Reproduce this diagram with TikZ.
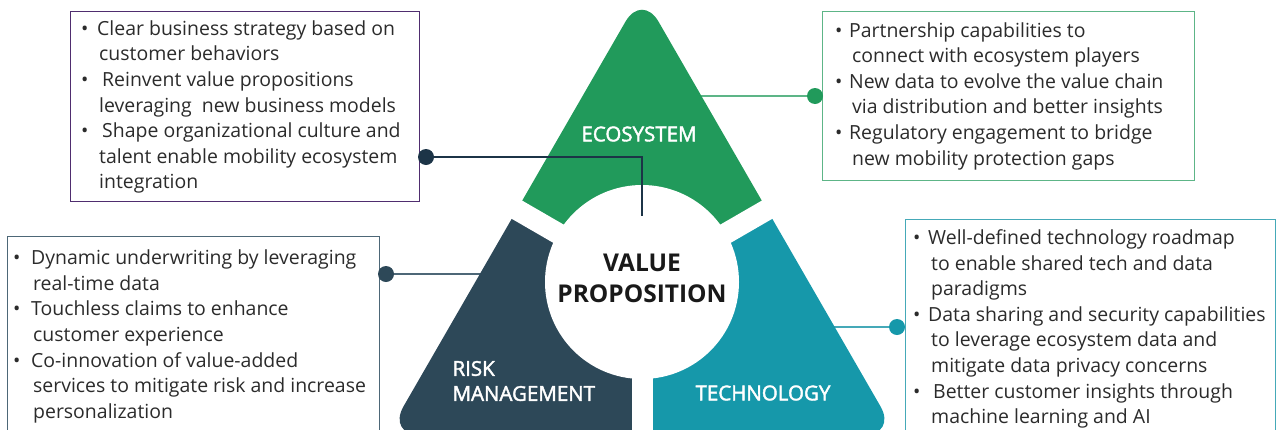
\documentclass[tikz,border=0pt]{standalone}
\usepackage{fontspec}
\setmainfont{Open Sans}
\newfontfamily\piecefont{Open Sans}[FakeBold=2]
\usetikzlibrary{positioning,calc}

\definecolor{ecogreen}{HTML}{219A5B}
\definecolor{riskslate}{HTML}{2D4858}
\definecolor{techteal}{HTML}{1698AA}
\definecolor{stratnavy}{HTML}{1C3447}
\definecolor{stratpurple}{HTML}{4F2D6F}
\definecolor{ecoline}{HTML}{5DB587}
\definecolor{riskline}{HTML}{4D6777}
\definecolor{techline}{HTML}{45A9B8}
\definecolor{bodytext}{HTML}{2B2B2B}

\newcommand{\bul}[1][15pt]{\makebox[#1][l]{\textbullet}}
\newcommand{\ind}[1][17pt]{\hspace*{#1}}

\begin{document}
\begin{tikzpicture}[x=1pt, y=-1pt,
    infobox/.style={draw, line width=1.2pt, anchor=north west},
    infotext/.style={anchor=west, inner sep=0pt, align=left, text=bodytext, font=\fontsize{19.45}{25.6}\selectfont},
    dot/.style={circle, minimum size=16pt, inner sep=0pt},
    link/.style={line width=1.6pt},
    piecelabel/.style={text=white, align=left, font=\piecefont\fontsize{20.5}{25}\selectfont}]
    \useasboundingbox (0,0) rectangle (1277,429);

    % Boxes
    \node[infobox, draw=stratpurple, minimum width=349pt, minimum height=190pt] (strategybox) at (70,11) {};
    \node[infobox, draw=ecoline, minimum width=372pt, minimum height=169pt] (ecobox) at (822,11) {};
    \node[infobox, draw=riskline, minimum width=372pt, minimum height=200pt] (riskbox) at (7,236) {};
    \node[infobox, draw=techline, minimum width=370pt, minimum height=216pt] (techbox) at (905,219) {};

    % Box texts
    \node[infotext] (strategytext) at (81,107) {\bul[16pt]Clear business strategy based on\\ \ind[18pt]customer behaviors\\ \bul[21pt]Reinvent value propositions\\ \ind[18pt]leveraging\ \ new business models\\ \bul[21pt]Shape organizational culture and\\ \ind[18pt]talent enable mobility ecosystem\\ \ind[18pt]integration};
    \node[infotext] (ecotext) at (835,96) {\bul[14pt]Partnership capabilities to\\ \ind connect with ecosystem players\\ \bul[14pt]New data to evolve the value chain\\ \ind via distribution and better insights\\ \bul[14pt]Regulatory engagement to bridge\\ \ind new mobility protection gaps};
    \node[infotext] (risktext) at (13,336.5) {\bul[18pt]Dynamic underwriting by leveraging\\ \ind[20pt]real-time data\\ \bul[18pt]Touchless claims to enhance\\ \ind[20pt]customer experience\\ \bul[18pt]Co-innovation of value-added\\ \ind[20pt]services to mitigate risk and increase\\ \ind[20pt]personalization};
    \node[infotext] (techtext) at (913,329) {\bul Well-defined technology roadmap\\ \ind[18pt]to enable shared tech and data\\ \ind[18pt]paradigms\\ \bul Data sharing and security capabilities\\ \ind[18pt]to leverage ecosystem data and\\ \ind[18pt]mitigate data privacy concerns\\ \bul[20pt]Better customer insights through\\ \ind[18pt]machine learning and AI};

    % Dots
    \node[dot, fill=stratnavy] (stratdot) at (426,157) {};
    \node[dot, fill=ecogreen] (ecodot) at (815,96) {};
    \node[dot, fill=riskslate] (riskdot) at (386,274) {};
    \node[dot, fill=techteal] (techdot) at (897,327) {};

    % Links under the triangle
    \coordinate (ecoend) at (690,96);
    \coordinate (riskend) at (490,274);
    \coordinate (techend) at (825,327);
    \draw[link, ecoline] (ecoend) -- (ecodot);
    \draw[link, riskline] (riskend) -- (riskdot);
    \draw[link, techline] (techend) -- (techdot);

    % Triangle
    \coordinate (core) at (642,282);
    \coordinate (apex) at (642,-7);
    \coordinate (baseL) at (387,435);
    \coordinate (baseR) at (897,435);
    \begin{scope}
        \clip (core) -- (-224,-218) -- (642,-800) -- (1508,-218) -- cycle;
        \fill[ecogreen, rounded corners=33pt] (baseL) -- (baseR) -- (apex) -- cycle;
    \end{scope}
    \begin{scope}
        \clip (core) -- (-224,-218) -- (-300,1000) -- (642,1000) -- cycle;
        \fill[riskslate, rounded corners=33pt] (apex) -- (baseL) -- (baseR) -- cycle;
    \end{scope}
    \begin{scope}
        \clip (core) -- (642,1000) -- (1584,1000) -- (1508,-218) -- cycle;
        \fill[techteal, rounded corners=33pt] (apex) -- (baseL) -- (baseR) -- cycle;
    \end{scope}

    % Gaps and centre
    \draw[white, line width=21pt] (core) -- ++(0,200);
    \draw[white, line width=21pt] (core) -- ++(-147,-85);
    \draw[white, line width=21pt] (core) -- ++(147,-85);
    \fill[white] (core) circle (97);

    % Strategy link
    \coordinate (stratend) at (642,216);
    \draw[link, stratnavy] (stratdot) -| (stratend);

    % Labels
    \node[piecelabel] (ecolabel) at (639,134) {ECOSYSTEM};
    \node[piecelabel, anchor=west] (risklabel) at (449,381) {RISK\\MANAGEMENT};
    \node[piecelabel] (techlabel) at (763,393) {TECHNOLOGY};
    \node[align=center, text=black!90, font=\bfseries\fontsize{24.5}{31}\selectfont] (valuelabel) at (642,278) {VALUE\\PROPOSITION};
\end{tikzpicture}
\end{document}
